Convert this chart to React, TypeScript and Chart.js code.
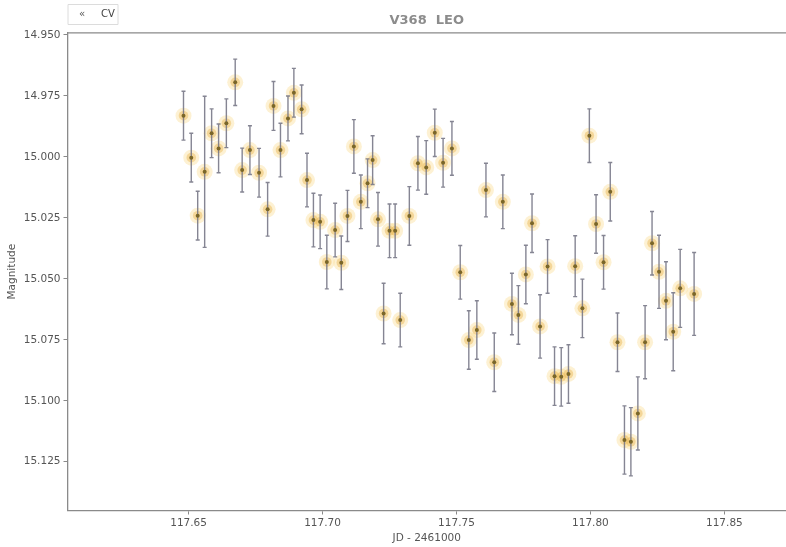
import React, { useEffect, useRef } from "react";
import { Chart, registerables } from "chart.js";

Chart.register(...registerables);

const jd: number[] = [
  117.6481, 117.651, 117.6534, 117.656, 117.6586, 117.6612, 117.6641, 117.6674, 117.67, 117.6729,
  117.6763, 117.6795, 117.6817, 117.6843, 117.6871, 117.6893, 117.6922, 117.6942, 117.6966, 117.6991,
  117.7016, 117.7047, 117.707, 117.7093, 117.7117, 117.7143, 117.7168, 117.7187, 117.7207, 117.7228,
  117.725, 117.7271, 117.729, 117.7324, 117.7356, 117.7387, 117.7419, 117.745, 117.7483, 117.7514,
  117.7546, 117.7576, 117.761, 117.7641, 117.7673, 117.7707, 117.7731, 117.7759, 117.7782, 117.7812,
  117.784, 117.7866, 117.7891, 117.7918, 117.7943, 117.797, 117.7996, 117.8021, 117.8049, 117.8074,
  117.8101, 117.8127, 117.8151, 117.8177, 117.8204, 117.823, 117.8256, 117.8282, 117.8309, 117.8335,
  117.8387,
];

const mag: number[] = [
  14.9831, 15.0003, 15.0241, 15.0061, 14.9903, 14.9965, 14.9862, 14.9694, 15.0054, 14.9972,
  15.0065, 15.0215, 14.9791, 14.9972, 14.9842, 14.9737, 14.9805, 15.0095, 15.0259, 15.0266,
  15.0431, 15.03, 15.0434, 15.0242, 14.9957, 15.0184, 15.0108, 15.0013, 15.0256, 15.0642,
  15.0303, 15.0303, 15.0669, 15.0242, 15.0026, 15.0043, 14.9901, 15.0024, 14.9965, 15.0473,
  15.0751, 15.071, 15.0136, 15.0842, 15.0184, 15.0603, 15.0648, 15.0482, 15.0272, 15.0695,
  15.0449, 15.0899, 15.0902, 15.089, 15.0448, 15.0621, 14.9913, 15.0275, 15.0432, 15.0143,
  15.076, 15.1161, 15.1168, 15.1052, 15.076, 15.0354, 15.0471, 15.059, 15.0717, 15.0539,
  15.0562,
];

const err: number[] = [
  0.01, 0.01, 0.01, 0.031, 0.01, 0.01, 0.01, 0.0095, 0.009, 0.01,
  0.01, 0.011, 0.01, 0.011, 0.0092, 0.01, 0.01, 0.011, 0.011, 0.011,
  0.011, 0.011, 0.011, 0.0105, 0.011, 0.011, 0.01, 0.01, 0.011, 0.0124,
  0.011, 0.011, 0.011, 0.012, 0.011, 0.011, 0.0097, 0.01, 0.011, 0.011,
  0.012, 0.012, 0.011, 0.012, 0.011, 0.0126, 0.012, 0.012, 0.012, 0.013,
  0.011, 0.012, 0.012, 0.012, 0.0125, 0.012, 0.011, 0.012, 0.011, 0.012,
  0.012, 0.014, 0.014, 0.015, 0.015, 0.013, 0.015, 0.016, 0.016, 0.016,
  0.017,
];

const xTickValues: number[] = [117.65, 117.7, 117.75, 117.8, 117.85];
const yTickValues: number[] = [14.95, 14.975, 15.0, 15.025, 15.05, 15.075, 15.1, 15.125];

const titleText = "V368  LEO";
const seriesLabel = "CV";
const xTitle = "JD - 2461000";
const yTitle = "Magnitude";

const FONT = "'DejaVu Sans', sans-serif";

const errorBarPlugin = {
  id: "errorBars",
  afterDatasetDraw(chart: any, args: any) {
    if (args.index !== 1) return;
    const { ctx, scales } = chart;
    const xs = scales.x;
    const ys = scales.y;
    ctx.save();
    ctx.strokeStyle = "rgba(120,120,135,0.9)";
    ctx.lineWidth = 1.4;
    for (let i = 0; i < jd.length; i++) {
      const px = xs.getPixelForValue(jd[i]);
      const y1 = ys.getPixelForValue(mag[i] - err[i]);
      const y2 = ys.getPixelForValue(mag[i] + err[i]);
      ctx.beginPath();
      ctx.moveTo(px, y1);
      ctx.lineTo(px, y2);
      ctx.moveTo(px - 2, y1);
      ctx.lineTo(px + 2, y1);
      ctx.moveTo(px - 2, y2);
      ctx.lineTo(px + 2, y2);
      ctx.stroke();
    }
    ctx.restore();
  },
};

const framePlugin = {
  id: "frameAndLegend",
  afterDraw(chart: any) {
    const { ctx, chartArea } = chart;
    ctx.save();
    ctx.strokeStyle = "#8a8a8a";
    ctx.lineWidth = 1.3;
    ctx.beginPath();
    ctx.moveTo(chartArea.left, chartArea.top);
    ctx.lineTo(chartArea.right, chartArea.top);
    ctx.stroke();

    const lx = chartArea.left + 0.5;
    const ly = 4.5;
    const lw = 50;
    const lh = 20;
    ctx.fillStyle = "rgba(255,255,255,0.9)";
    ctx.strokeStyle = "#dcdcdc";
    ctx.lineWidth = 1;
    ctx.beginPath();
    ctx.rect(lx, ly, lw, lh);
    ctx.fill();
    ctx.stroke();
    ctx.fillStyle = "#555";
    ctx.font = `10px ${FONT}`;
    ctx.textBaseline = "middle";
    ctx.textAlign = "center";
    ctx.fillText("«", lx + 14, ly + lh / 2);
    ctx.fillStyle = "#444";
    ctx.fillText(seriesLabel, lx + 40, ly + lh / 2);
    ctx.restore();
  },
};

export default function App() {
  const ref = useRef<HTMLCanvasElement | null>(null);

  useEffect(() => {
    if (!ref.current) return;
    const pts = jd.map((x, i) => ({ x, y: mag[i] }));
    const chart = new Chart(ref.current, {
      type: "scatter",
      data: {
        datasets: [
          {
            label: seriesLabel,
            data: pts,
            pointRadius: 8,
            pointBackgroundColor: "rgba(250,212,120,0.33)",
            pointBorderWidth: 0,
            order: 3,
          },
          {
            label: seriesLabel + " core",
            data: pts,
            pointRadius: 4.8,
            pointBackgroundColor: "rgba(232,182,80,0.45)",
            pointBorderWidth: 0,
            order: 2,
          },
          {
            label: seriesLabel + " center",
            data: pts,
            pointRadius: 2,
            pointBackgroundColor: "#7a6628",
            pointBorderWidth: 0,
            order: 1,
          },
        ],
      },
      options: {
        animation: false,
        responsive: false,
        maintainAspectRatio: false,
        layout: { autoPadding: false, padding: { left: 0, right: 0, top: 0, bottom: 0 } },
        plugins: {
          legend: { display: false },
          tooltip: { enabled: false },
          title: {
            display: true,
            fullSize: false,
            text: titleText,
            color: "#8c8c8c",
            font: { family: FONT, size: 13, weight: "bold" },
            padding: { top: 13.2, bottom: 4 },
          },
        },
        scales: {
          x: {
            type: "linear",
            min: 117.6048,
            max: 117.873,
            afterFit: (s: any) => {
              s.height = 36.5;
              s.paddingLeft = 0;
              s.paddingRight = 0;
            },
            afterBuildTicks: (s: any) => {
              s.ticks = xTickValues.map((v) => ({ value: v }));
            },
            ticks: {
              font: { family: FONT, size: 10.5 },
              color: "#555",
              padding: 2,
              maxRotation: 0,
              callback: (v: any) => Number(v).toFixed(2),
            },
            grid: {
              drawOnChartArea: false,
              drawTicks: true,
              tickLength: 4,
              color: "#8a8a8a",
            },
            border: { color: "#8a8a8a", width: 1.3 },
            title: {
              display: true,
              text: xTitle,
              color: "#555",
              font: { family: FONT, size: 10.5 },
              padding: { top: 0, bottom: 2.7 },
            },
          },
          y: {
            type: "linear",
            reverse: true,
            min: 14.9491,
            max: 15.145,
            afterFit: (s: any) => {
              s.width = 67.5;
              s.paddingTop = 0;
              s.paddingBottom = 0;
            },
            afterBuildTicks: (s: any) => {
              s.ticks = yTickValues.map((v) => ({ value: v }));
            },
            ticks: {
              font: { family: FONT, size: 10.5 },
              color: "#555",
              padding: 3,
              callback: (v: any) => Number(v).toFixed(3),
            },
            grid: {
              drawOnChartArea: false,
              drawTicks: true,
              tickLength: 4,
              color: "#8a8a8a",
            },
            border: { color: "#8a8a8a", width: 1.3 },
            title: {
              display: true,
              text: yTitle,
              color: "#555",
              font: { family: FONT, size: 10.5 },
              padding: { top: 6.4, bottom: 0 },
            },
          },
        },
      },
      plugins: [errorBarPlugin, framePlugin],
    });
    return () => chart.destroy();
  }, []);

  return (
    <div
      style={{
        position: "fixed",
        left: 0,
        top: 0,
        width: 786,
        height: 547,
        overflow: "hidden",
        background: "#fff",
      }}
    >
      <canvas ref={ref} width={786} height={547} style={{ display: "block" }} />
    </div>
  );
}
